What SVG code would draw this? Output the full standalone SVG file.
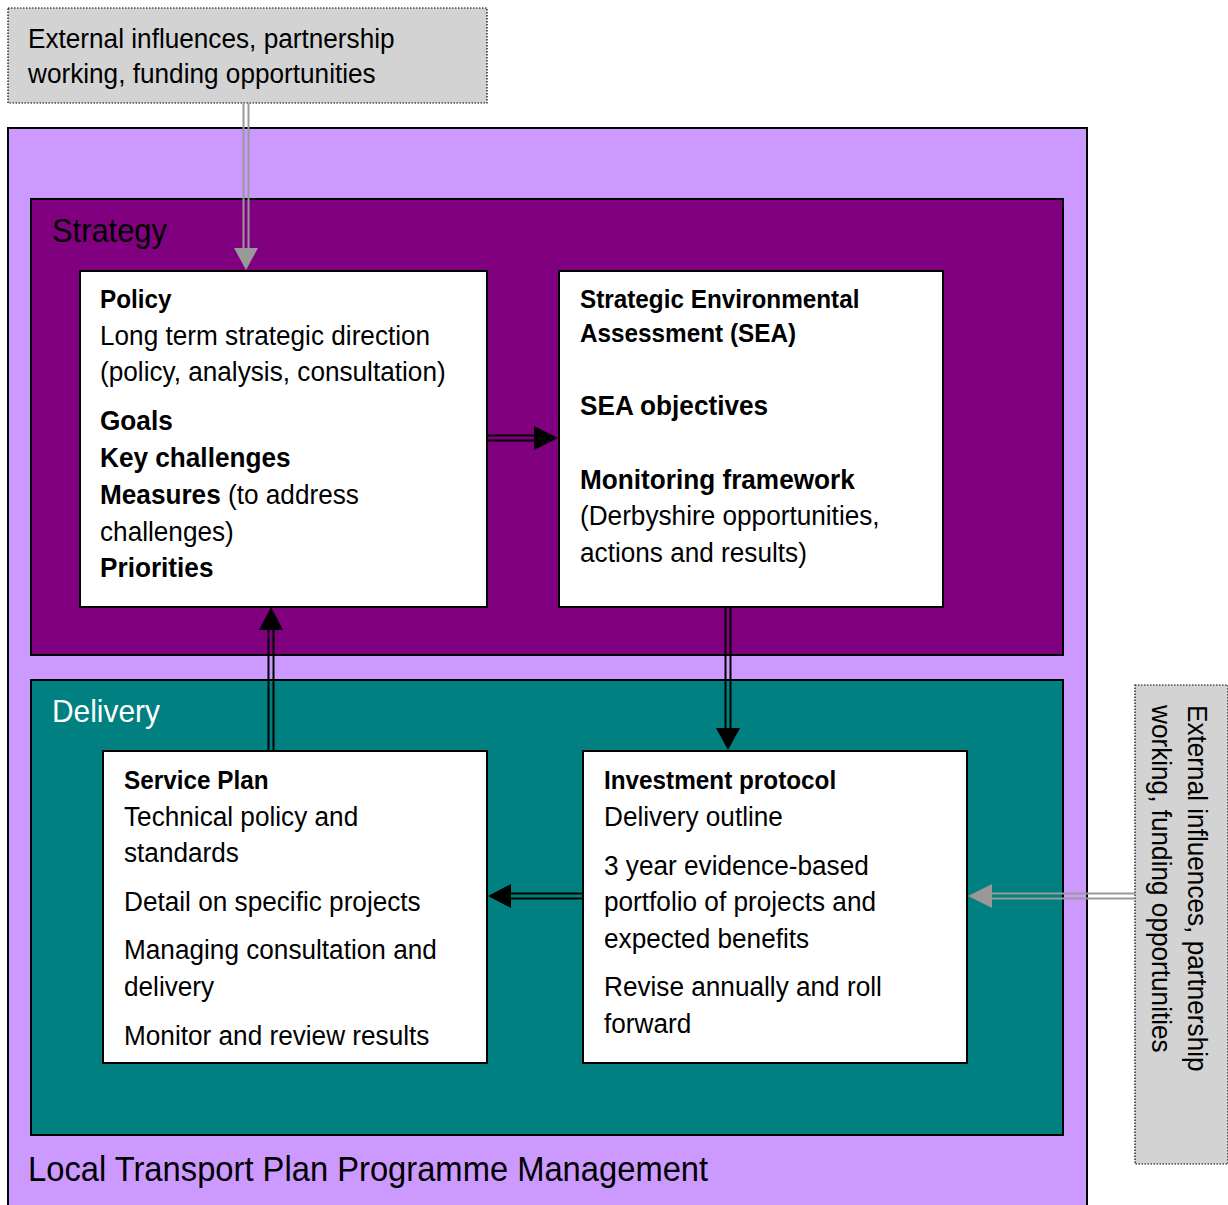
<svg xmlns="http://www.w3.org/2000/svg" width="1228" height="1205" viewBox="0 0 1228 1205">
<defs>
<style>
text{font-family:"Liberation Sans",Arial,sans-serif;fill:#000}
.b{font-size:28px}
.h{font-size:26px;font-weight:bold}
.hb{font-size:28px;font-weight:bold}
.gray{fill:#d3d3d3;stroke:#000;stroke-width:1.2;stroke-dasharray:1.5 1.5}
.box{fill:#fff;stroke:#000;stroke-width:2}
.dk{stroke:#000;stroke-width:2;fill:none}
.gl{stroke:#999;stroke-width:2;fill:none}
</style>
</defs>
<rect x="0" y="0" width="1228" height="1205" fill="#fff"/>
<g id="outer">
<rect x="8" y="128" width="1079" height="1090" fill="#cc99ff" stroke="#000" stroke-width="2"/>
<text transform="matrix(0.935 0 0 1 1.82 0)" x="28" y="1181" style="font-size:35px">Local Transport Plan Programme Management</text>
</g>
<g id="strategy">
<rect x="31" y="199" width="1032" height="456" fill="#800080" stroke="#000" stroke-width="2"/>
<text transform="matrix(0.935 0 0 1 3.38 0)" x="52" y="242" style="font-size:33px">Strategy</text>
</g>
<g id="delivery">
<rect x="31" y="680" width="1032" height="455" fill="#008080" stroke="#000" stroke-width="2"/>
<text transform="matrix(0.935 0 0 1 3.38 0)" x="52" y="722" style="font-size:32px;fill:#fff">Delivery</text>
</g>
<g id="ext-top">
<rect class="gray" x="8" y="8" width="479" height="95"/>
<g transform="matrix(0.935 0 0 1 1.82 0)">
<text class="b" x="28" y="48">External influences, partnership</text>
<text class="b" x="28" y="83">working, funding opportunities</text>
</g>
</g>
<g id="ext-right">
<rect class="gray" x="1135" y="685" width="93" height="479"/>
<text class="b" transform="translate(1188,705) rotate(90) scale(0.935,1)">External influences, partnership</text>
<text class="b" transform="translate(1152,705) rotate(90) scale(0.935,1)">working, funding opportunities</text>
</g>
<g id="policy">
<rect class="box" x="80" y="271" width="407" height="336"/>
<g transform="matrix(0.935 0 0 1 6.5 0)">
<text class="h" x="100" y="308">Policy</text>
<text class="b" x="100" y="345">Long term strategic direction</text>
<text class="b" x="100" y="381">(policy, analysis, consultation)</text>
<text class="hb" x="100" y="430">Goals</text>
<text class="hb" x="100" y="467">Key challenges</text>
<text class="b" x="100" y="504"><tspan font-weight="bold">Measures</tspan> (to address</text>
<text class="b" x="100" y="541">challenges)</text>
<text class="hb" x="100" y="577">Priorities</text>
</g>
</g>
<g id="sea">
<rect class="box" x="559" y="271" width="384" height="336"/>
<g transform="matrix(0.935 0 0 1 37.7 0)">
<text class="h" x="580" y="308">Strategic Environmental</text>
<text class="h" x="580" y="342">Assessment (SEA)</text>
<text class="hb" x="580" y="415">SEA objectives</text>
<text class="hb" x="580" y="489">Monitoring framework</text>
<text class="b" x="580" y="525">(Derbyshire opportunities,</text>
<text class="b" x="580" y="562">actions and results)</text>
</g>
</g>
<g id="service">
<rect class="box" x="103" y="751" width="384" height="312"/>
<g transform="matrix(0.935 0 0 1 8.06 0)">
<text class="h" x="124" y="789">Service Plan</text>
<text class="b" x="124" y="826">Technical policy and</text>
<text class="b" x="124" y="862">standards</text>
<text class="b" x="124" y="911">Detail on specific projects</text>
<text class="b" x="124" y="959">Managing consultation and</text>
<text class="b" x="124" y="996">delivery</text>
<text class="b" x="124" y="1045">Monitor and review results</text>
</g>
</g>
<g id="investment">
<rect class="box" x="583" y="751" width="384" height="312"/>
<g transform="matrix(0.935 0 0 1 39.26 0)">
<text class="h" x="604" y="789">Investment protocol</text>
<text class="b" x="604" y="826">Delivery outline</text>
<text class="b" x="604" y="875">3 year evidence-based</text>
<text class="b" x="604" y="911">portfolio of projects and</text>
<text class="b" x="604" y="948">expected benefits</text>
<text class="b" x="604" y="996">Revise annually and roll</text>
<text class="b" x="604" y="1033">forward</text>
</g>
</g>
<g id="connectors">
<path class="gl" d="M243.5 103V252M248.5 103V252"/>
<polygon points="234,248 258,248 246,270" fill="#999"/>
<path class="dk" d="M487 435.5H537M487 440.5H537"/>
<polygon points="534,426 534,450 558,438" fill="#000"/>
<path class="dk" d="M725.5 607V732M730.5 607V732"/>
<polygon points="716,728 740,728 728,750" fill="#000"/>
<path class="dk" d="M268.5 750V626M273.5 750V626"/>
<polygon points="259,630 283,630 271,607" fill="#000"/>
<path class="dk" d="M583 893.5H507M583 898.5H507"/>
<polygon points="511,884 511,908 488,896" fill="#000"/>
<path class="gl" d="M1135 893.5H988M1135 898.5H988"/>
<polygon points="992,884 992,908 968,896" fill="#999"/>
</g>
</svg>
